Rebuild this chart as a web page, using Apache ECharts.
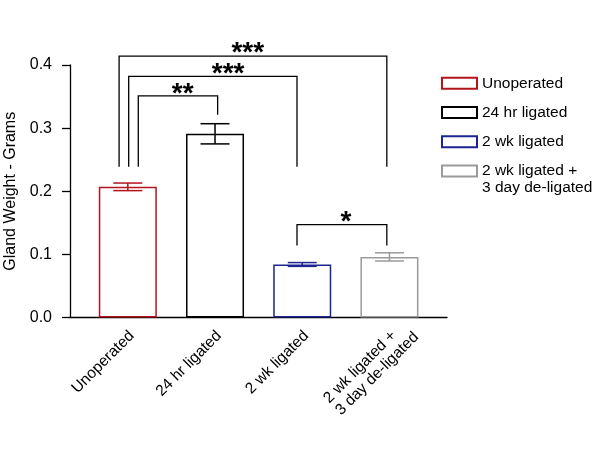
<!DOCTYPE html>
<html><head><meta charset="utf-8">
<script src="https://cdn.jsdelivr.net/npm/echarts@6/dist/echarts.min.js"></script>
<style>html,body{margin:0;padding:0;background:#fff}#c{width:600px;height:464px}</style>
</head><body><div id="c"></div>
<script>
const categories = ['Unoperated', '24 hr ligated', '2 wk ligated', '2 wk ligated +\n3 day de-ligated'];
const means = [0.207, 0.291, 0.084, 0.096];
const errors = [0.006, 0.016, 0.003, 0.0065];
const colors = ['#b2151b', '#000000', '#1c2590', '#9a9a9a'];
const yTicks = [0.0, 0.1, 0.2, 0.3, 0.4];
// significance brackets (data coordinates)
const bracketLeft = [-0.10, 0.01, 0.12, 1.94];
const bracketRight = [2.97, 1.94, 1.03, 2.97];
const bracketTop = [0.414, 0.382, 0.351, 0.147];
const bracketLeftFoot = [0.239, 0.239, 0.239, 0.114];
const bracketRightFoot = [0.239, 0.239, 0.321, 0.114];
const bracketLabel = ['***', '***', '**', '*'];
const labelX = [1.375, 1.15, 0.63, 2.5];
const labelY = [0.430, 0.397, 0.365, 0.162];

const FONT = 'Liberation Sans, Arial, Helvetica, sans-serif';
const chart = echarts.init(document.getElementById('c'), null, {renderer: 'canvas'});

const barSeries = categories.map((c, i) => ({
  type: 'bar', name: c, xAxisIndex: 0, yAxisIndex: 0,
  data: [[i, means[i]]], barWidth: 58, barGap: '-100%',
  itemStyle: {color: '#ffffff', borderColor: colors[i], borderWidth: 1.5},
  emphasis: {disabled: true}, z: 2
}));

const errSeries = {
  type: 'custom', xAxisIndex: 0, yAxisIndex: 0, z: 3, clip: false,
  data: means.map((m, i) => [i, m, errors[i]]),
  encode: {x: 0, y: 1},
  renderItem: function (params, api) {
    const x = api.value(0), m = api.value(1), e = api.value(2);
    const hi = api.coord([x, m + e]), lo = api.coord([x, m - e]);
    const hw = 14.5;
    const st = {stroke: colors[params.dataIndex], lineWidth: 1.5, fill: null};
    return {type: 'group', children: [
      {type: 'line', shape: {x1: hi[0], y1: hi[1], x2: lo[0], y2: lo[1]}, style: st},
      {type: 'line', shape: {x1: hi[0] - hw, y1: hi[1], x2: hi[0] + hw, y2: hi[1]}, style: st},
      {type: 'line', shape: {x1: lo[0] - hw, y1: lo[1], x2: lo[0] + hw, y2: lo[1]}, style: st}
    ]};
  }
};

const brSeries = {
  type: 'custom', xAxisIndex: 0, yAxisIndex: 0, z: 4, clip: false,
  data: bracketLeft.map((l, i) => [l, bracketRight[i], bracketTop[i], bracketLeftFoot[i], bracketRightFoot[i], labelX[i], labelY[i]]),
  encode: {x: 0, y: 2},
  renderItem: function (params, api) {
    const i = params.dataIndex;
    const a = api.coord([api.value(0), api.value(3)]);
    const b = api.coord([api.value(0), api.value(2)]);
    const c = api.coord([api.value(1), api.value(2)]);
    const d = api.coord([api.value(1), api.value(4)]);
    const t = api.coord([api.value(5), api.value(6)]);
    return {type: 'group', children: [
      {type: 'polyline', shape: {points: [a, b, c, d]}, style: {stroke: '#000', lineWidth: 1.3, fill: null}},
      {type: 'text', x: t[0], y: t[1] + 7, style: {text: bracketLabel[i], fontSize: 28, fontWeight: 'bold', fontFamily: FONT, fill: '#000', align: 'center', verticalAlign: 'middle'}}
    ]};
  }
};

const legendCommon = {
  orient: 'vertical', left: 441, itemWidth: 35, itemHeight: 11, icon: 'rect',
  selectedMode: false, padding: 0,
  textStyle: {fontSize: 15.5, fontFamily: FONT, color: '#000', lineHeight: 17}
};

chart.setOption({
  animation: false,
  backgroundColor: '#ffffff',
  textStyle: {fontFamily: FONT},
  grid: [
    {left: 70, right: 153, top: 65, bottom: 146.5, outerBoundsMode: 'none', containLabel: false},
    {left: 88.2, right: 163, top: 65, bottom: 146.5, outerBoundsMode: 'none', containLabel: false}
  ],
  legend: [
    Object.assign({}, legendCommon, {top: 74.8, itemGap: 12.2, data: categories.slice(0, 3)}),
    Object.assign({}, legendCommon, {top: 145.5, data: [categories[3]],
      formatter: n => '\n' + n})
  ],
  xAxis: [
    {type: 'value', gridIndex: 0, min: -0.663, max: 3.66,
     axisLine: {show: true, onZero: false, lineStyle: {color: '#000', width: 1.3}},
     axisTick: {show: false}, axisLabel: {show: false}, splitLine: {show: false}},
    {type: 'category', gridIndex: 1, data: categories,
     axisLine: {show: false}, axisTick: {show: false}, splitLine: {show: false},
     axisLabel: {rotate: 45, fontSize: 15.5, color: '#000', margin: 16, fontFamily: FONT, interval: 0, lineHeight: 17,
       formatter: v => {
         const parts = v.split('\n');
         return parts.length > 1 ? ['{w| }'].concat(parts.map(s => '{w|' + s + '}')).join('\n') : v;
       },
       rich: {w: {align: 'left', width: 95, fontSize: 15.5, lineHeight: 17, fontFamily: FONT, color: '#000'}}}}
  ],
  yAxis: [
    {type: 'value', gridIndex: 0, min: yTicks[0], max: yTicks[yTicks.length - 1], interval: 0.1,
     axisLine: {show: true, onZero: false, lineStyle: {color: '#000', width: 1.3}},
     axisTick: {show: true, length: 8, lineStyle: {color: '#000', width: 1.3}},
     axisLabel: {fontSize: 16, color: '#000', margin: 18, fontFamily: FONT, formatter: v => v.toFixed(1)},
     splitLine: {show: false},
     name: 'Gland Weight - Grams', nameLocation: 'middle', nameGap: 51,
     nameTextStyle: {fontSize: 16, color: '#000', fontFamily: FONT}},
    {type: 'value', gridIndex: 1, show: false, min: 0, max: 0.4}
  ],
  series: barSeries.concat([errSeries, brSeries])
});
</script></body></html>
